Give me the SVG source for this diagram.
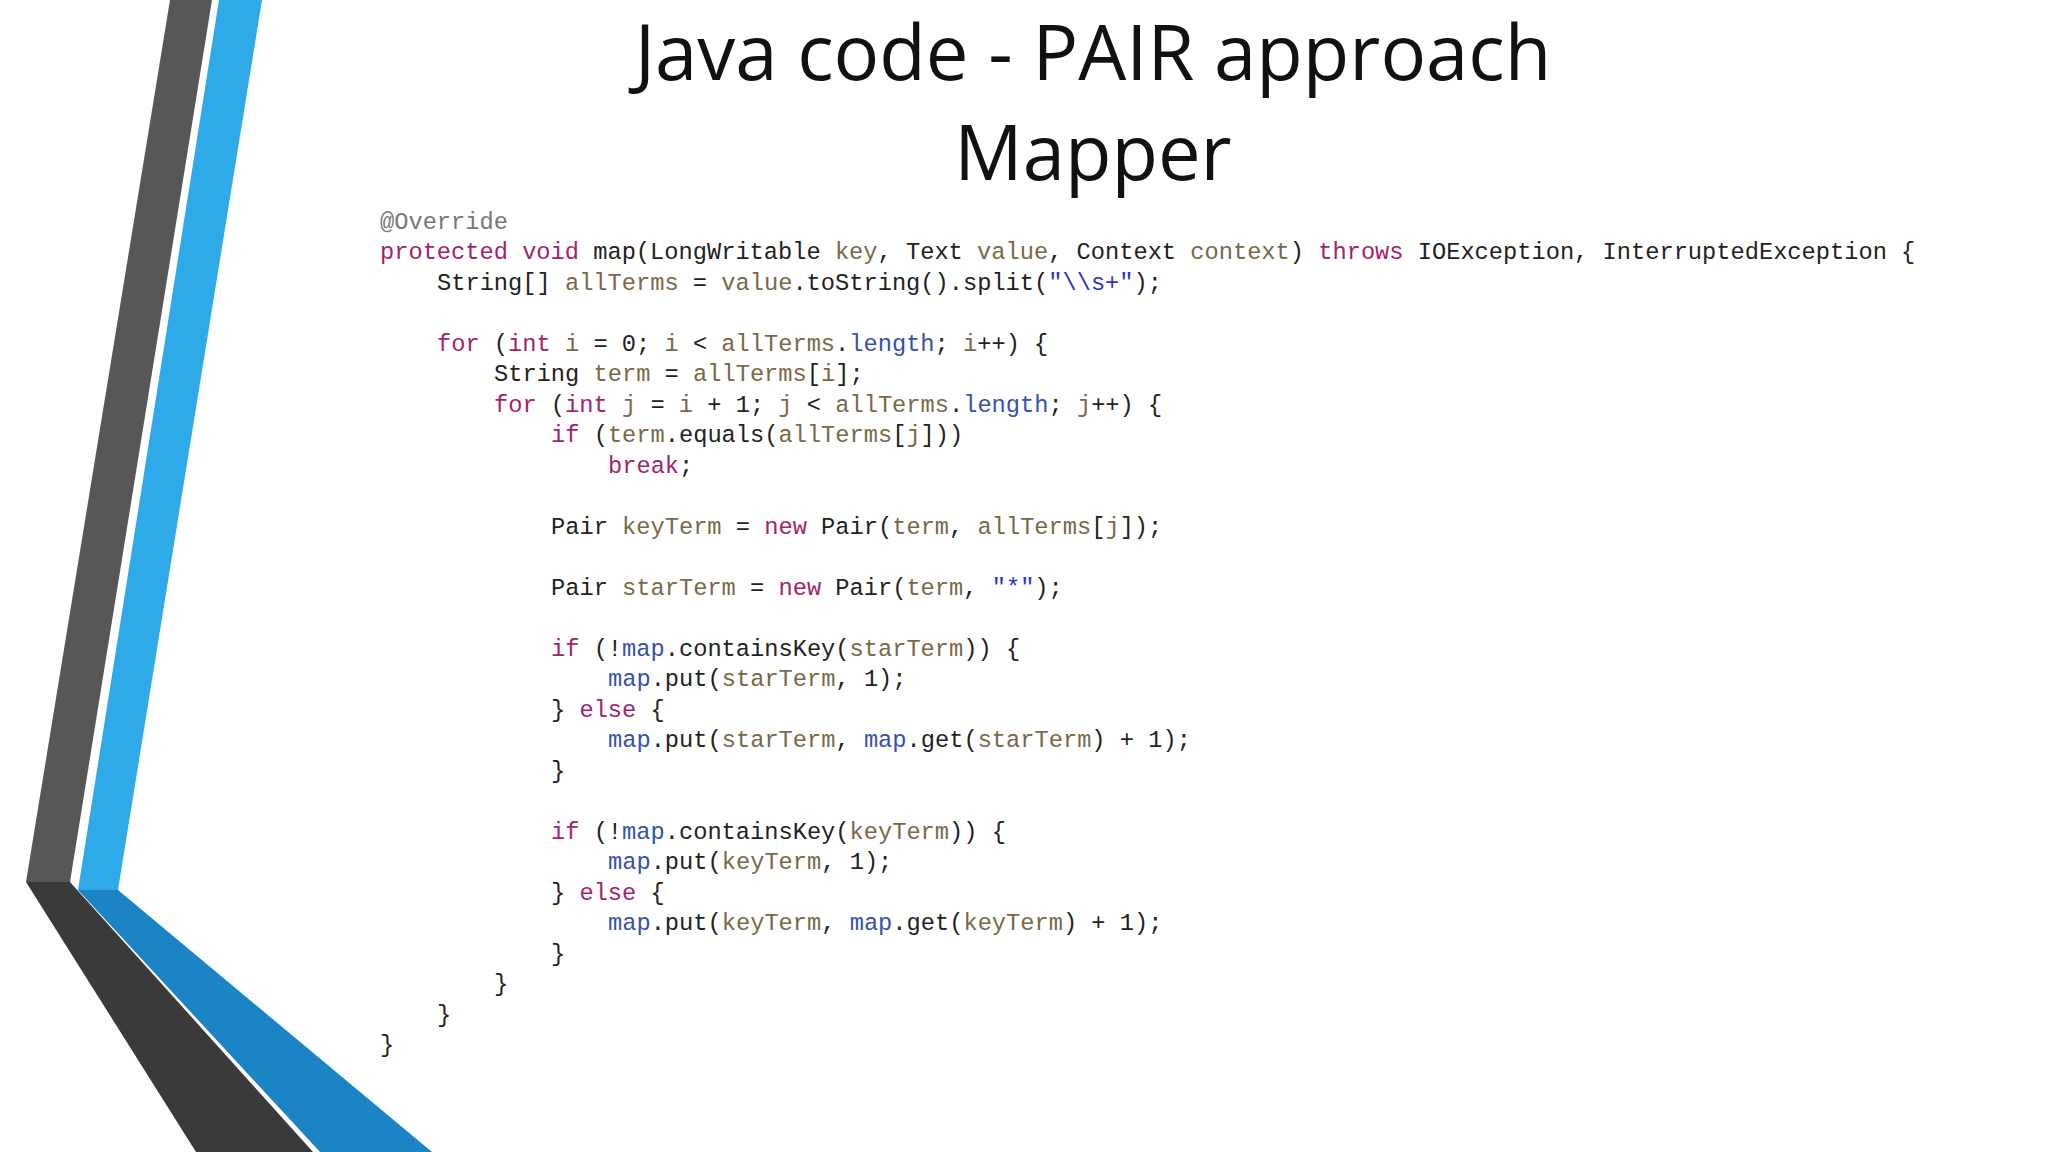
<svg xmlns="http://www.w3.org/2000/svg" width="2048" height="1152" viewBox="0 0 2048 1152">
<style>
.t{font-family:"Open Sans","Liberation Sans",sans-serif;font-size:76px;fill:#111;text-anchor:middle}
.c{font-family:"Liberation Mono",monospace;font-size:23.7px;fill:#222}
.k{fill:#a3236e}.v{fill:#7a6848}.f{fill:#3553a8}.s{fill:#2a36c0}.a{fill:#777}
</style>
<rect width="2048" height="1152" fill="#fff"/>
<g id="deco">
<polygon points="170,0 212,0 70,882 26,882" fill="#575757"/>
<polygon points="26,882 70,882 313,1152 196,1152" fill="#3a3a3a"/>
<polygon points="219,0 262,0 118,890 78,890" fill="#2eaae8"/>
<polygon points="78,890 118,890 432,1152 320,1152" fill="#1a84c4"/>
</g>
<g id="title">
<text class="t" x="1093" y="80">Java code - PAIR approach</text>
<text class="t" x="1093" y="180">Mapper</text>
</g>
<g id="code" class="c">
<text x="380" y="228.5" class="c a">@Override</text>
<text x="380" y="259"><tspan class="k">protected void</tspan> map(LongWritable <tspan class="v">key</tspan>, Text <tspan class="v">value</tspan>, Context <tspan class="v">context</tspan>) <tspan class="k">throws</tspan> IOException, InterruptedException {</text>
<text x="437" y="289.5">String[] <tspan class="v">allTerms</tspan> = <tspan class="v">value</tspan>.toString().split(<tspan class="s">"\\s+"</tspan>);</text>
<text x="437" y="350.5"><tspan class="k">for</tspan> (<tspan class="k">int</tspan> <tspan class="v">i</tspan> = 0; <tspan class="v">i</tspan> &lt; <tspan class="v">allTerms</tspan>.<tspan class="f">length</tspan>; <tspan class="v">i</tspan>++) {</text>
<text x="494" y="381">String <tspan class="v">term</tspan> = <tspan class="v">allTerms</tspan>[<tspan class="v">i</tspan>];</text>
<text x="494" y="411.5"><tspan class="k">for</tspan> (<tspan class="k">int</tspan> <tspan class="v">j</tspan> = <tspan class="v">i</tspan> + 1; <tspan class="v">j</tspan> &lt; <tspan class="v">allTerms</tspan>.<tspan class="f">length</tspan>; <tspan class="v">j</tspan>++) {</text>
<text x="551" y="442"><tspan class="k">if</tspan> (<tspan class="v">term</tspan>.equals(<tspan class="v">allTerms</tspan>[<tspan class="v">j</tspan>]))</text>
<text x="608" y="472.5"><tspan class="k">break</tspan>;</text>
<text x="551" y="533.5">Pair <tspan class="v">keyTerm</tspan> = <tspan class="k">new</tspan> Pair(<tspan class="v">term</tspan>, <tspan class="v">allTerms</tspan>[<tspan class="v">j</tspan>]);</text>
<text x="551" y="594.5">Pair <tspan class="v">starTerm</tspan> = <tspan class="k">new</tspan> Pair(<tspan class="v">term</tspan>, <tspan class="s">"*"</tspan>);</text>
<text x="551" y="655.5"><tspan class="k">if</tspan> (!<tspan class="f">map</tspan>.containsKey(<tspan class="v">starTerm</tspan>)) {</text>
<text x="608" y="686"><tspan class="f">map</tspan>.put(<tspan class="v">starTerm</tspan>, 1);</text>
<text x="551" y="716.5">} <tspan class="k">else</tspan> {</text>
<text x="608" y="747"><tspan class="f">map</tspan>.put(<tspan class="v">starTerm</tspan>, <tspan class="f">map</tspan>.get(<tspan class="v">starTerm</tspan>) + 1);</text>
<text x="551" y="777.5">}</text>
<text x="551" y="838.5"><tspan class="k">if</tspan> (!<tspan class="f">map</tspan>.containsKey(<tspan class="v">keyTerm</tspan>)) {</text>
<text x="608" y="869"><tspan class="f">map</tspan>.put(<tspan class="v">keyTerm</tspan>, 1);</text>
<text x="551" y="899.5">} <tspan class="k">else</tspan> {</text>
<text x="608" y="930"><tspan class="f">map</tspan>.put(<tspan class="v">keyTerm</tspan>, <tspan class="f">map</tspan>.get(<tspan class="v">keyTerm</tspan>) + 1);</text>
<text x="551" y="960.5">}</text>
<text x="494" y="991">}</text>
<text x="437" y="1021.5">}</text>
<text x="380" y="1052">}</text>
</g>
</svg>
